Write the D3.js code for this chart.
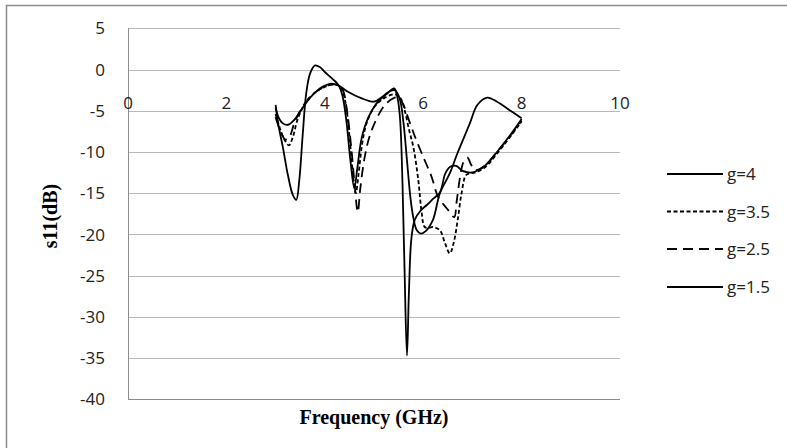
<!DOCTYPE html>
<html><head><meta charset="utf-8">
<script src="https://cdn.jsdelivr.net/npm/d3@7"></script>
<style>html,body{margin:0;padding:0;background:#fff;}svg{display:block;}</style>
</head><body>
<script>
const xTicks = [0, 2, 4, 6, 8, 10];
const yTicks = [5, 0, -5, -10, -15, -20, -25, -30, -35, -40];
const seriesNames = ["g=4", "g=3.5", "g=2.5", "g=1.5"];

const g4 = [[3.0,-4.3],[3.05,-6.5],[3.15,-9.5],[3.25,-12.8],[3.35,-15.2],[3.42,-15.8],[3.48,-13.5],[3.55,-8],[3.62,-3],[3.7,-0.5],[3.8,0.5],[3.9,0.3],[4.0,-0.3],[4.15,-1.1],[4.28,-1.9],[4.36,-3.2],[4.44,-6.3],[4.52,-11],[4.6,-14.4],[4.66,-12],[4.75,-8.3],[4.88,-5.9],[5.08,-3.9],[5.25,-3.0],[5.41,-2.3],[5.48,-3.5],[5.53,-6],[5.58,-14],[5.62,-24],[5.67,-34.7],[5.71,-27],[5.76,-20.5],[5.83,-18.2],[5.95,-17.1],[6.08,-16.4],[6.2,-15.7],[6.34,-14.9],[6.45,-12.6],[6.55,-11.8],[6.67,-11.7],[6.8,-12.3],[6.95,-12.5],[7.05,-12.4],[7.25,-11.7],[7.5,-10],[7.75,-8.1],[8.0,-6.0]];
const g35 = [[3.0,-5.4],[3.08,-7],[3.18,-8.5],[3.27,-9.2],[3.35,-8.2],[3.45,-6],[3.6,-4.1],[3.8,-2.8],[4.0,-2.1],[4.2,-1.8],[4.33,-2.2],[4.42,-4],[4.5,-8],[4.57,-12.5],[4.63,-15],[4.68,-13],[4.76,-9],[4.85,-6.5],[5.0,-4.6],[5.2,-3.5],[5.4,-3.0],[5.5,-3.2],[5.58,-4],[5.63,-5.1],[5.72,-7.5],[5.8,-9.4],[5.9,-13.4],[5.97,-17.4],[6.03,-19.1],[6.12,-19.2],[6.2,-19.1],[6.34,-19.5],[6.44,-21],[6.54,-22.3],[6.62,-21],[6.7,-18.3],[6.78,-15],[6.87,-12.8],[6.95,-12.6],[7.05,-12.5],[7.25,-11.9],[7.5,-10.2],[7.75,-8.3],[8.0,-6.3]];
const g25 = [[3.0,-5.8],[3.1,-7.5],[3.2,-8.5],[3.28,-8.2],[3.38,-6.5],[3.5,-5],[3.65,-3.7],[3.8,-2.8],[4.0,-2.1],[4.2,-1.8],[4.35,-2.3],[4.45,-5],[4.53,-9],[4.6,-13.5],[4.67,-17.3],[4.72,-14.5],[4.8,-11],[4.9,-8.3],[5.05,-6],[5.22,-4.3],[5.39,-3.5],[5.5,-3.4],[5.6,-4.3],[5.66,-5.3],[5.75,-6.8],[5.83,-8.1],[6.0,-10.6],[6.17,-13],[6.3,-15.4],[6.5,-17],[6.63,-17.9],[6.68,-16],[6.75,-13],[6.82,-11.2],[6.9,-10.7],[6.97,-11.5],[7.05,-12.2],[7.25,-11.7],[7.5,-10],[7.75,-8.2],[8.0,-6.2]];
const g15 = [[3.0,-4.6],[3.06,-5.8],[3.14,-6.5],[3.25,-6.7],[3.38,-6.1],[3.52,-4.9],[3.65,-3.8],[3.8,-2.8],[3.95,-2.1],[4.14,-1.7],[4.3,-2.0],[4.47,-2.7],[4.75,-3.5],[5.0,-3.9],[5.15,-3.4],[5.3,-2.7],[5.42,-2.5],[5.52,-3.5],[5.6,-6.5],[5.67,-11],[5.74,-15.5],[5.8,-18],[5.87,-19.5],[5.95,-19.9],[6.05,-19.6],[6.2,-18.2],[6.34,-15],[6.54,-12.6],[6.7,-10.1],[6.95,-6.5],[7.1,-4.3],[7.3,-3.4],[7.5,-3.9],[7.75,-4.9],[8.0,-5.9]];

const seriesData = [g4, g35, g25, g15];
const dashes = [null, "4,2.5", "10,6", null];

const W = 787, H = 448;
const svg = d3.select("body").append("svg").attr("width", W).attr("height", H);

// outer frame
svg.append("rect").attr("x", 6.5).attr("y", 5.5).attr("width", 900).attr("height", 600)
  .attr("fill", "none").attr("stroke", "#8a8a8a").attr("stroke-width", 1.5);

const x = d3.scaleLinear().domain([0, 10]).range([128, 620]);
const y = d3.scaleLinear().domain([-40, 5]).range([399.3, 28.3]);

// gridlines
svg.append("g").selectAll("line").data(yTicks).join("line")
  .attr("x1", x(0)).attr("x2", x(10))
  .attr("y1", d => Math.round(y(d)) + 0.5).attr("y2", d => Math.round(y(d)) + 0.5)
  .attr("stroke", d => d === -40 ? "#8c8c8c" : "#b8b8b8").attr("stroke-width", 1);
// left axis line
svg.append("line").attr("x1", Math.round(x(0)) + 0.5).attr("x2", Math.round(x(0)) + 0.5)
  .attr("y1", y(5)).attr("y2", y(-40)).attr("stroke", "#8c8c8c").attr("stroke-width", 1);

const tickFont = "'Open Sans', sans-serif";
// y tick labels
svg.append("g").selectAll("text").data(yTicks).join("text")
  .attr("x", 105).attr("y", d => y(d)).attr("dy", "0.36em")
  .attr("text-anchor", "end").attr("font-family", tickFont).attr("font-size", 17)
  .attr("fill", "#222").text(d => d);
// x tick labels (axis crossing near -5)
svg.append("g").selectAll("text").data(xTicks).join("text")
  .attr("x", d => x(d)).attr("y", 108.5)
  .attr("text-anchor", "middle").attr("font-family", tickFont).attr("font-size", 17)
  .attr("fill", "#222").text(d => d);

// lines
const line = d3.line().x(d => x(d[0])).y(d => y(d[1])).curve(d3.curveCatmullRom.alpha(0.5));
svg.append("g").selectAll("path").data(seriesData).join("path")
  .attr("d", d => line(d)).attr("fill", "none").attr("stroke", "#000")
  .attr("stroke-width", 1.8)
  .attr("stroke-dasharray", (d, i) => dashes[i]);

// legend
const lg = svg.append("g");
const legY = [174, 211.5, 249, 287];
seriesNames.forEach((n, i) => {
  lg.append("line").attr("x1", 667).attr("x2", 723).attr("y1", legY[i]).attr("y2", legY[i])
    .attr("stroke", "#000").attr("stroke-width", 1.8).attr("stroke-dasharray", dashes[i]);
  lg.append("text").attr("x", 727).attr("y", legY[i]).attr("dy", "0.36em")
    .attr("font-family", tickFont).attr("font-size", 17).attr("fill", "#222").text(n);
});

// axis titles
svg.append("text").attr("x", 374).attr("y", 417).attr("dy", "0.35em")
  .attr("text-anchor", "middle").attr("font-family", "'Liberation Serif', 'Times New Roman', serif")
  .attr("font-weight", "bold").attr("font-size", 20).text("Frequency (GHz)");
svg.append("text").attr("transform", "translate(50,216) rotate(-90)").attr("dy", "0.35em")
  .attr("text-anchor", "middle").attr("font-family", "'Liberation Serif', 'Times New Roman', serif")
  .attr("font-weight", "bold").attr("font-size", 20).text("s11(dB)");
</script>
</body></html>
